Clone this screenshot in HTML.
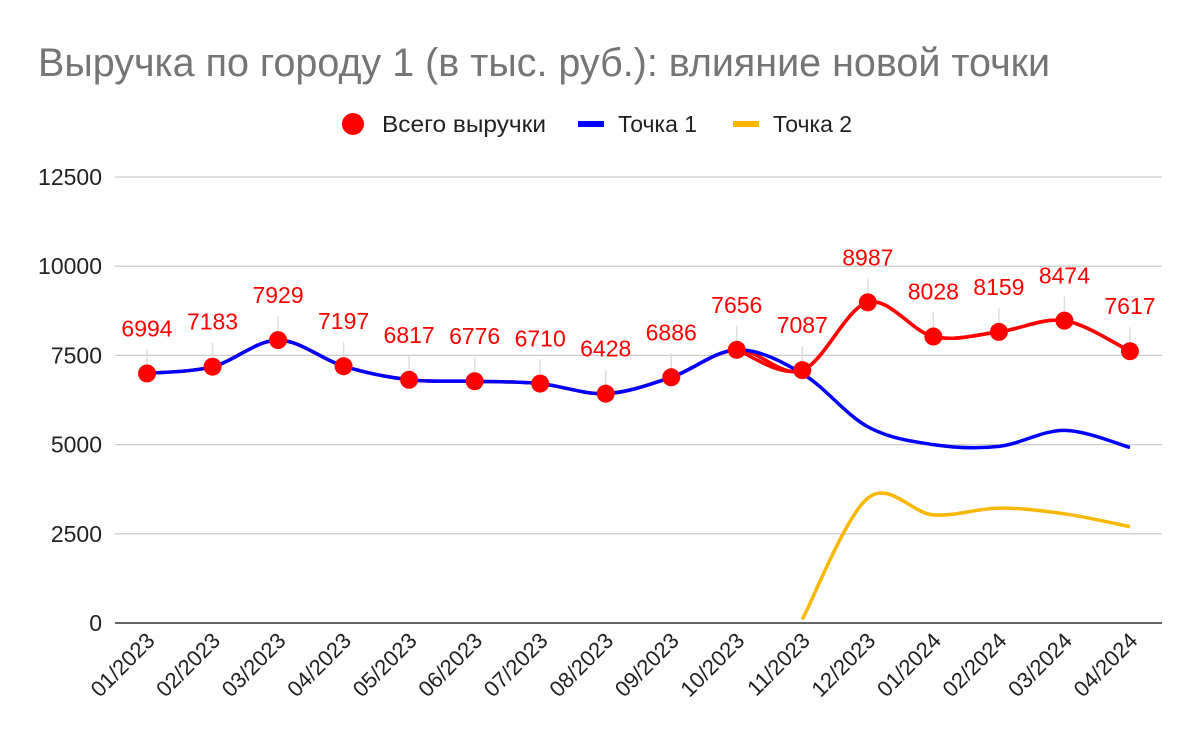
<!DOCTYPE html>
<html><head><meta charset="utf-8"><style>
body{margin:0;background:#fff;}
svg{display:block;font-family:"Liberation Sans",sans-serif;}
</style></head><body>
<svg id="s" width="1200" height="742" xmlns="http://www.w3.org/2000/svg">
<rect width="1200" height="742" fill="#fff"/>
<text x="38" y="76" font-size="39.5" fill="#757575" textLength="1012" lengthAdjust="spacingAndGlyphs">Выручка по городу 1 (в тыс. руб.): влияние новой точки</text>
<circle cx="353" cy="124" r="11" fill="#f00"/>
<text x="382" y="132" font-size="23" fill="#222" textLength="164" lengthAdjust="spacingAndGlyphs">Всего выручки</text>
<rect x="578" y="121" width="26" height="6" fill="#00f"/>
<text x="618" y="132" font-size="23" fill="#222">Точка 1</text>
<rect x="733" y="121" width="26" height="6" fill="#f9b800"/>
<text x="773" y="132" font-size="23" fill="#222">Точка 2</text>
<g id="grid"></g>
<g id="series"></g>
</svg>
<script>
const ns="http://www.w3.org/2000/svg";
const s=document.getElementById('s');
function el(t,a,p){const e=document.createElementNS(ns,t);for(const k in a)e.setAttribute(k,a[k]);(p||s).appendChild(e);return e;}
const y0=623,ppu=(623-177)/12500;
const Y=v=>y0-v*ppu, X=i=>147+i*65.53;
const g=document.getElementById('grid');
for(let k=0;k<=5;k++){const v=k*2500;const y=Y(v);
el('line',{x1:115,x2:1162,y1:y,y2:y,stroke:k==0?'#333':'#ccc','stroke-width':k==0?1.5:1.3},g);
const t=el('text',{x:102,y:y+8,'font-size':23,fill:'#222','text-anchor':'end'},g);t.textContent=v;}
const labels=["01/2023","02/2023","03/2023","04/2023","05/2023","06/2023","07/2023","08/2023","09/2023","10/2023","11/2023","12/2023","01/2024","02/2024","03/2024","04/2024"];
labels.forEach((l,i)=>{const x=X(i)+9,y=642;const t=el('text',{x:x,y:y,'font-size':22,fill:'#222','text-anchor':'end',transform:`rotate(-45 ${x} ${y})`},g);t.textContent=l;});
const tot=[6994,7183,7929,7197,6817,6776,6710,6428,6886,7656,7087,8987,8028,8159,8474,7617];
const blue=[6994,7183,7929,7197,6817,6776,6710,6428,6886,7656,6990,5500,5000,4950,5400,4920];
const yel=[null,null,null,null,null,null,null,null,null,null,100,3500,3030,3220,3060,2700];
function path(vals,start){const p=[];vals.forEach((v,i)=>{if(v!=null&&i>=start)p.push([X(i),Y(v)]);});
let d=`M${p[0][0]},${p[0][1]}`;for(let i=0;i<p.length-1;i++){const a=p[i-1]||p[i],b=p[i],c=p[i+1],e=p[i+2]||c;const t=6;
d+=` C${b[0]+(c[0]-a[0])/t},${b[1]+(c[1]-a[1])/t} ${c[0]-(e[0]-b[0])/t},${c[1]-(e[1]-b[1])/t} ${c[0]},${c[1]}`;}return d;}
const sg=document.getElementById('series');
tot.forEach((v,i)=>{el('line',{x1:X(i),x2:X(i),y1:Y(v)-24,y2:Y(v),stroke:'#ddd','stroke-width':1.5},sg);});
el('path',{d:path(tot,0),fill:'none',stroke:'#f00','stroke-width':3.5},sg);
el('path',{d:path(blue,0),fill:'none',stroke:'#00f','stroke-width':3.5},sg);
el('path',{d:path(yel,0),fill:'none',stroke:'#f9b800','stroke-width':3.5},sg);
el('path',{d:path(tot,9),fill:'none',stroke:'#f00','stroke-width':3.5},sg);
tot.forEach((v,i)=>{el('circle',{cx:X(i),cy:Y(v),r:9,fill:'#f00'},sg);
const t=el('text',{x:X(i),y:Y(v)-37,'font-size':23,fill:'#f00','text-anchor':'middle'},sg);t.textContent=v;});
</script>
</body></html>
